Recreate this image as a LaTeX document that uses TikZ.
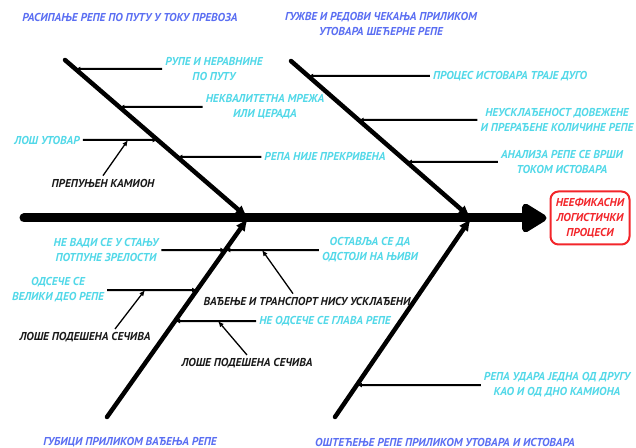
\documentclass[tikz,border=0pt]{standalone}
\usepackage{fontspec}
\setmainfont{PT Sans}
\usetikzlibrary{arrows.meta,positioning}
\definecolor{catblue}{HTML}{5A6EF2}
\definecolor{causecyan}{HTML}{52D8E8}
\definecolor{effred}{HTML}{F2262B}

\begin{document}
\begin{tikzpicture}[
  x=1bp, y=-1bp,
  every node/.style={font=\bfseries\itshape\fontsize{11.5}{15}\selectfont, inner sep=3bp},
  cat/.style={text=catblue, align=center},
  cause/.style={text=causecyan, align=center},
  sub/.style={text=black!90},
  effect/.style={draw=effred, text=effred, line width=2bp, rounded corners=8bp, align=center, minimum width=79bp, minimum height=53bp},
  spine/.style={line width=9bp, line cap=round, -{Triangle[length=28bp, width=32bp, round]}},
  bone/.style={line width=4.5bp, line cap=round, -{Latex[length=13bp, width=11bp]}},
  twig/.style={line width=2bp, -{Latex[length=5bp, width=5bp]}},
  hint/.style={line width=1.3bp, -{Latex[length=6bp, width=5bp]}}
]
\useasboundingbox (0,0) rectangle (636,448);

\node[effect] (effect) at (590,218) {НЕЕФИКАСНИ\\ЛОГИСТИЧКИ\\ПРОЦЕСИ};

\coordinate (tail) at (24,218);
\coordinate (j1) at (248,218);
\coordinate (j2) at (471,218);
\coordinate (ulS) at (65,60);
\coordinate (urS) at (291,61);
\coordinate (llS) at (107,417);
\coordinate (lrS) at (335,417);

\draw[spine, shorten >=3bp] (tail) -- (effect.west);
\draw[bone] (ulS) -- (j1);
\draw[bone] (urS) -- (j2);
\draw[bone] (llS) -- (j1);
\draw[bone] (lrS) -- (j2);

\node[cat] (transport) at (130,17) {РАСИПАЊЕ РЕПЕ ПО ПУТУ У ТОКУ ПРЕВОЗА};
\node[cat] (queue) at (381,24) {ГУЖВЕ И РЕДОВИ ЧЕКАЊА ПРИЛИКОМ\\УТОВАРА ШЕЋЕРНЕ РЕПЕ};
\node[cat] (harvest) at (130,442) {ГУБИЦИ ПРИЛИКОМ ВАЂЕЊА РЕПЕ};
\node[cat] (damage) at (445,442) {ОШТЕЋЕЊЕ РЕПЕ ПРИЛИКОМ УТОВАРА И ИСТОВАРА};

\node[cause] (holes) at (214,69) {РУПЕ И НЕРАВНИНЕ\\ПО ПУТУ};
\node[cause] (net) at (265,107) {НЕКВАЛИТЕТНА МРЕЖА\\ИЛИ ЦЕРАДА};
\node[cause] (load) at (47,140) {ЛОШ УТОВАР};
\node[cause] (cover) at (325,157) {РЕПА НИЈЕ ПРЕКРИВЕНА};
\node[cause] (slow) at (510,76) {ПРОЦЕС ИСТОВАРА ТРАЈЕ ДУГО};
\node[cause] (mismatch) at (557,120) {НЕУСКЛАЂЕНОСТ ДОВЕЖЕНЕ\\И ПРЕРАЂЕНЕ КОЛИЧИНЕ РЕПЕ};
\node[cause] (analysis) at (562,162) {АНАЛИЗА РЕПЕ СЕ ВРШИ\\ТОКОМ ИСТОВАРА};
\node[cause] (unripe) at (106,250) {НЕ ВАДИ СЕ У СТАЊУ\\ПОТПУНЕ ЗРЕЛОСТИ};
\node[cause] (field) at (370,250) {ОСТАВЉА СЕ ДА\\ОДСТОЈИ НА ЊИВИ};
\node[cause] (bigcut) at (58,290) {ОДСЕЧЕ СЕ\\ВЕЛИКИ ДЕО РЕПЕ};
\node[cause] (nocut) at (325,321) {НЕ ОДСЕЧЕ СЕ ГЛАВА РЕПЕ};
\node[cause] (bump) at (557,385) {РЕПА УДАРА ЈЕДНА ОД ДРУГУ\\КАО И ОД ДНО КАМИОНА};

\node[sub] (overload) at (103,183) {ПРЕПУЊЕН КАМИОН};
\node[sub] (blades1) at (85,337) {ЛОШЕ ПОДЕШЕНА СЕЧИВА};
\node[sub] (blades2) at (247,363) {ЛОШЕ ПОДЕШЕНА СЕЧИВА};
\node[sub] (sync) at (307,301) {ВАЂЕЊЕ И ТРАНСПОРТ НИСУ УСКЛАЂЕНИ};

\draw[twig] (holes) -- (intersection of ulS--j1 and holes.west--holes.east);
\draw[twig] (net) -- (intersection of ulS--j1 and net.west--net.east);
\draw[twig] (load) -- (intersection of ulS--j1 and load.west--load.east);
\draw[twig] (cover) -- (intersection of ulS--j1 and cover.west--cover.east);
\draw[twig] (slow) -- (intersection of urS--j2 and slow.west--slow.east);
\draw[twig] (mismatch) -- (intersection of urS--j2 and mismatch.west--mismatch.east);
\draw[twig] (analysis) -- (intersection of urS--j2 and analysis.west--analysis.east);
\draw[twig] (unripe) -- (intersection of llS--j1 and unripe.west--unripe.east);
\draw[twig] (field) -- (intersection of llS--j1 and field.west--field.east);
\draw[twig] (bigcut) -- (intersection of llS--j1 and bigcut.west--bigcut.east);
\draw[twig] (nocut) -- (intersection of llS--j1 and nocut.west--nocut.east);
\draw[twig] (bump) -- (intersection of lrS--j2 and bump.west--bump.east);

\coordinate (p1) at (128,140);
\coordinate (p2) at (145,290);
\coordinate (p3) at (218,321);
\coordinate (p4) at (262,250);
\draw[hint] (overload.north) -- (p1);
\draw[hint] ([xshift=30bp]blades1.north) -- (p2);
\draw[hint] (blades2.north) -- (p3);
\draw[hint] ([xshift=-14bp]sync.north) -- (p4);
\end{tikzpicture}
\end{document}
